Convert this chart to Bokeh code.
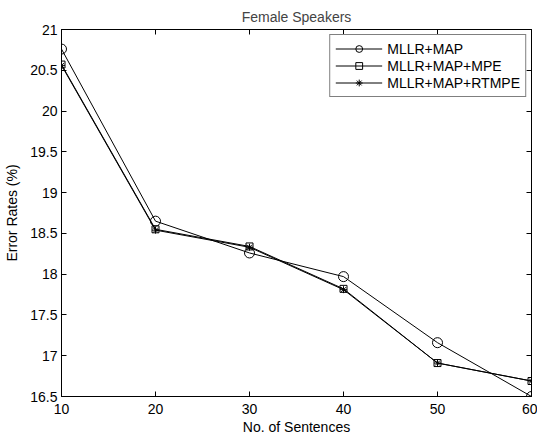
from bokeh.plotting import figure
from bokeh.models import Range1d, FixedTicker, LinearAxis, Legend, LegendItem
from bokeh.embed import file_html
from bokeh.resources import INLINE

sentences = [10, 20, 30, 40, 50, 60]
mllr_map = [20.76, 18.65, 18.26, 17.97, 17.16, 16.50]
mllr_map_mpe = [20.57, 18.55, 18.34, 17.82, 16.91, 16.69]
mllr_map_rtmpe = [20.56, 18.54, 18.33, 17.81, 16.91, 16.69]

x_ticks = [10, 20, 30, 40, 50, 60]
y_ticks = [16.5, 17, 17.5, 18, 18.5, 19, 19.5, 20, 20.5, 21]
y_tick_labels = ["16.5", "17", "17.5", "18", "18.5", "19", "19.5", "20", "20.5", "21"]

FONT = "Liberation Sans"
FS = "14px"

p = figure(width=537, height=437, output_backend="svg", toolbar_location=None,
           x_range=Range1d(10, 60), y_range=Range1d(16.5, 21),
           min_border_left=61, min_border_right=6, min_border_top=29, min_border_bottom=37)
p.background_fill_color = "white"
p.border_fill_color = "white"
p.outline_line_color = "black"
p.outline_line_width = 1
p.xgrid.visible = False
p.ygrid.visible = False

p.title.text = "Female Speakers"
p.title.align = "center"
p.title.text_font = FONT
p.title.text_font_size = FS
p.title.text_font_style = "normal"
p.title.standoff = 10
p.title.offset = 0

for ax in (p.xaxis[0], p.yaxis[0]):
    ax.major_tick_in = 5
    ax.major_tick_out = 0
    ax.minor_tick_in = 0
    ax.minor_tick_out = 0
    ax.axis_line_color = "black"
    ax.major_tick_line_color = "black"
    ax.major_label_text_font = FONT
    ax.major_label_text_font_size = FS
    ax.major_label_text_color = "black"
    ax.axis_label_text_font = FONT
    ax.axis_label_text_font_size = FS
    ax.axis_label_text_font_style = "normal"
    ax.axis_label_text_color = "black"

p.xaxis.ticker = FixedTicker(ticks=x_ticks)
p.yaxis.ticker = FixedTicker(ticks=y_ticks)
p.yaxis.major_label_overrides = {t: l for t, l in zip(y_ticks, y_tick_labels)}
p.xaxis.major_label_standoff = 7
p.yaxis.major_label_standoff = 4
p.xaxis.axis_label = "No. of Sentences"
p.yaxis.axis_label = "Error Rates (%)"
p.xaxis.axis_label_standoff = 2
p.yaxis.axis_label_standoff = 7

# mirror axes (box ticks)
top = LinearAxis(ticker=FixedTicker(ticks=x_ticks), major_label_text_font_size="0px",
                 major_tick_in=5, major_tick_out=0, minor_tick_in=0, minor_tick_out=0,
                 major_label_standoff=0, axis_line_color="black")
right = LinearAxis(ticker=FixedTicker(ticks=y_ticks), major_label_text_font_size="0px",
                   major_tick_in=5, major_tick_out=0, minor_tick_in=0, minor_tick_out=0,
                   major_label_standoff=0, axis_line_color="black")
p.add_layout(top, "above")
p.add_layout(right, "right")

l1 = p.line(sentences, mllr_map, line_color="black", line_width=1)
m1 = p.scatter(sentences, mllr_map, marker="circle", size=10, fill_color=None,
               line_color="black", line_width=1)
l2 = p.line(sentences, mllr_map_mpe, line_color="black", line_width=1)
m2 = p.scatter(sentences, mllr_map_mpe, marker="square", size=7, fill_color=None,
               line_color="black", line_width=1)
l3 = p.line(sentences, mllr_map_rtmpe, line_color="black", line_width=1)
m3 = p.scatter(sentences, mllr_map_rtmpe, marker="asterisk", size=7,
               line_color="black", line_width=1)

legend = Legend(items=[
    LegendItem(label="MLLR+MAP", renderers=[l1, m1]),
    LegendItem(label="MLLR+MAP+MPE", renderers=[l2, m2]),
    LegendItem(label="MLLR+MAP+RTMPE", renderers=[l3, m3]),
], location="top_right")
legend.label_text_font = FONT
legend.label_text_font_size = FS
legend.label_text_color = "black"
legend.border_line_color = "black"
legend.border_line_width = 1
legend.background_fill_color = "white"
legend.background_fill_alpha = 1
legend.glyph_width = 47
legend.glyph_height = 17
legend.label_height = 17
legend.label_standoff = 5
legend.spacing = 0
legend.padding = 5
legend.margin = 5
p.add_layout(legend, "center")

open("out.html", "w").write(file_html(p, INLINE))
